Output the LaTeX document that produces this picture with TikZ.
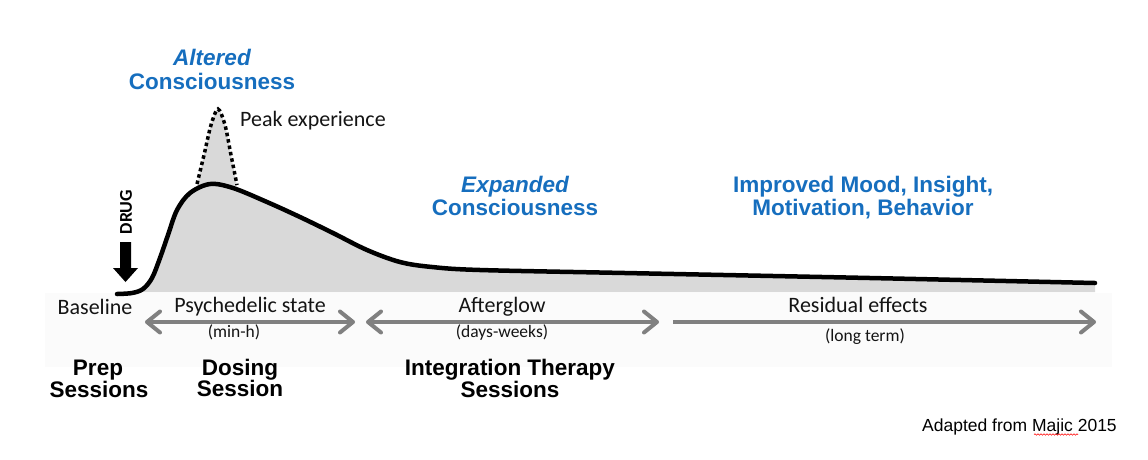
\documentclass[tikz,border=0pt]{standalone}
\usepackage{fontspec}
\setmainfont{Liberation Sans}
\newfontfamily\calfont{Carlito}
\usetikzlibrary{arrows.meta,decorations.pathmorphing}
\definecolor{titleblue}{RGB}{22,110,190}
\definecolor{areagray}{RGB}{217,217,217}
\definecolor{arrowgray}{RGB}{128,128,128}
\definecolor{bandgray}{RGB}{251,251,251}
\definecolor{labelgray}{RGB}{20,20,20}
\begin{document}
\begin{tikzpicture}[x=1pt,y=-1pt,
  bluetxt/.style={font=\fontsize{22.5}{24}\selectfont\bfseries, text=titleblue, inner sep=0pt, anchor=base},
  bluetxtit/.style={bluetxt, font=\fontsize{22.5}{24}\selectfont\bfseries\itshape},
  blacktxt/.style={font=\fontsize{22.5}{24}\selectfont\bfseries, text=black, inner sep=0pt, anchor=base},
  figlabel/.style={font=\calfont\fontsize{22}{23}\selectfont, text=labelgray, inner sep=0pt, anchor=base},
  figsub/.style={font=\calfont\fontsize{17.5}{18}\selectfont, text=labelgray, inner sep=0pt, anchor=base},
  phasearrow/.style={draw=arrowgray, line width=4pt, arrows={Straight Barb[length=13pt,width=21pt,round]-Straight Barb[length=13pt,width=21pt,round]}},
  phasearrowone/.style={draw=arrowgray, line width=4pt, arrows={-Straight Barb[length=13pt,width=21pt,round]}},
  curveline/.style={line width=4.5pt, line cap=round, line join=round},
  peakdots/.style={line width=3.5pt, dash pattern=on 3.5pt off 3pt},
]
\useasboundingbox (0,0) rectangle (1148,459);
% faint background strip of the pasted figure
\fill[bandgray] (45,293) rectangle (1112,367);

% area under the curve
\fill[areagray] plot[smooth, tension=0.55] coordinates {(117,294) (132,293) (143,289) (152,278) (160,258) (168,235) (177,210) (190,193) (210,184) (233,188) (267,202) (300,217) (333,233) (367,250) (400,262) (432,267) (480,270) (625,273) (870,278) (1095,283)} -- (1095,292) -- (117,292) -- cycle;

% peak experience
\fill[areagray] plot[smooth, tension=0.5] coordinates {(197,186) (204,155) (211,125) (218,109) (225,125) (231,155) (237,186)} -- cycle;
\draw[peakdots] plot[smooth, tension=0.5] coordinates {(197,184) (204,155) (211,125) (218,109) (225,125) (231,155) (237,185)};

% main curve
\draw[curveline] plot[smooth, tension=0.55] coordinates {(117,294) (132,293) (143,289) (152,278) (160,258) (168,235) (177,210) (190,193) (210,184) (233,188) (267,202) (300,217) (333,233) (367,250) (400,262) (432,267) (480,270) (625,273) (870,278) (1095,283)};

% drug arrow
\fill (120,242) -- (131,242) -- (131,268) -- (138,268) -- (125.5,282) -- (113,268) -- (120,268) -- cycle;
\node[rotate=90, inner sep=0pt, font=\calfont\bfseries\fontsize{18}{18}\selectfont] (drug) at (126,212) {DRUG};

% blue headings
\node[bluetxtit] (alt1) at (212,65) {Altered};
\node[bluetxt] (alt2) at (212,89) {Consciousness};
\node[figlabel, anchor=base west] (peak) at (240,126) {Peak experience};
\node[bluetxtit] (exp1) at (515,192) {Expanded};
\node[bluetxt] (exp2) at (515,215) {Consciousness};
\node[bluetxt] (imp1) at (863,192) {Improved Mood, Insight,};
\node[bluetxt] (imp2) at (863,215) {Motivation, Behavior};

% phase labels
\node[figlabel] (base) at (95,314) {Baseline};
\node[figlabel] (psy) at (250,312) {Psychedelic state};
\node[figsub] (psysub) at (234,337) {(min-h)};
\node[figlabel] (aft) at (502,312) {Afterglow};
\node[figsub] (aftsub) at (502,337) {(days-weeks)};
\node[figlabel] (res) at (858,312) {Residual effects};
\node[figsub] (ressub) at (865,341) {(long term)};

% phase arrows
\coordinate (p1l) at (145,322);
\coordinate (p1r) at (355,322);
\coordinate (p2l) at (366,322);
\coordinate (p2r) at (659,322);
\coordinate (p3l) at (673,322);
\coordinate (p3r) at (1096,322);
\draw[phasearrow] (p1l) -- (p1r);
\draw[phasearrow] (p2l) -- (p2r);
\draw[phasearrowone] (p3l) -- (p3r);

% sessions
\node[blacktxt] (prep1) at (98,375) {Prep};
\node[blacktxt] (prep2) at (99,397) {Sessions};
\node[blacktxt] (dos1) at (240,375) {Dosing};
\node[blacktxt] (dos2) at (240,396) {Session};
\node[blacktxt] (int1) at (510,375) {Integration Therapy};
\node[blacktxt] (int2) at (510,397) {Sessions};

% credit
\node[font=\fontsize{17.5}{18}\selectfont, inner sep=0pt, anchor=base west] (credit) at (922,431) {Adapted from Majic 2015};
\draw[red, line width=0.6pt, decorate, decoration={snake, amplitude=0.7pt, segment length=3pt}] (1034,434.5) -- (1078,434.5);
\end{tikzpicture}
\end{document}
